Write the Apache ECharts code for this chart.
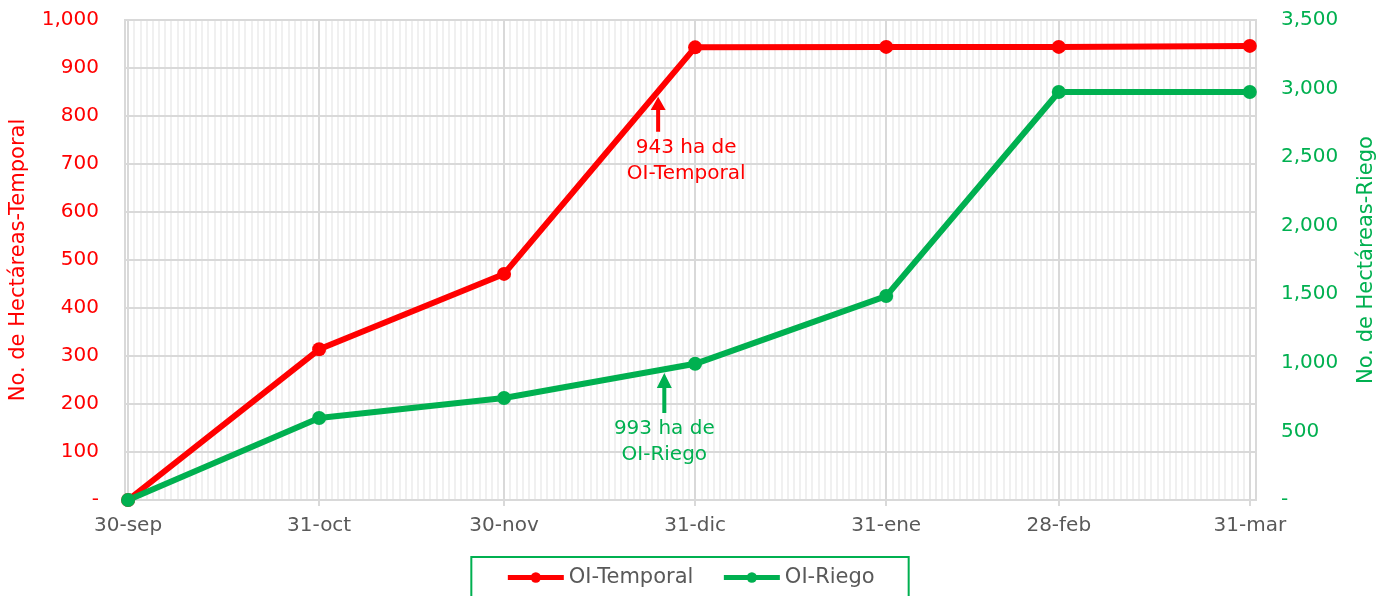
<!DOCTYPE html>
<html>
<head>
  <meta charset="utf-8">
  <title>OI Temporal / Riego</title>
  <script src="https://cdn.jsdelivr.net/npm/echarts@6/dist/echarts.min.js"></script>
</head>
<body style="margin:0">
  <div id="chart" style="width: 1380px; height: 596px;"></div>

  <script>
    // fechas de corte (día 0 = 30-sep)
    const dateLabels = ['30-sep', '31-oct', '30-nov', '31-dic', '31-ene', '28-feb', '31-mar'];
    const dayIndex = [0, 31, 61, 92, 123, 151, 182];
    const temporal = [0, 314, 471, 943, 944, 944, 946];
    const riego = [0, 598, 744, 993, 1487, 2975, 2975];

    const RED = '#FF0000';
    const GREEN = '#00B050';
    const GRAY = '#595959';
    const FONT = 'DejaVu Sans';

    const gridLeft = 125, gridRight = 124, gridTop = 20, gridBottom = 96;
    const xMin = -0.5, xMax = 183;
    const plotW = 1380 - gridLeft - gridRight;
    const pxPerDay = plotW / (xMax - xMin);

    const fmt = v => v === 0 ? '-' : v.toLocaleString('en-US');
    const arrow = 'path://M7.5,0 L15,15 L9.5,15 L9.5,40 L5.5,40 L5.5,15 L0,15 Z';

    const chart = echarts.init(document.getElementById('chart'));

    chart.setOption({
      animation: false,
      textStyle: { fontFamily: FONT },
      grid: [
        { left: gridLeft, right: gridRight, top: gridTop, bottom: gridBottom,
          outerBoundsMode: 'none', containLabel: false,
          show: true, borderColor: '#D9D9D9', borderWidth: 2, z: 3 },
        // grid auxiliar para las líneas diarias
        { left: gridLeft - 0.5 * pxPerDay, right: gridRight, top: gridTop, bottom: gridBottom,
          outerBoundsMode: 'none', containLabel: false }
      ],
      legend: {
        bottom: -20,
        left: 'center',
        padding: [10, 34, 28, 34],
        borderColor: GREEN,
        borderWidth: 2,
        itemWidth: 56,
        itemHeight: 13,
        itemGap: 28,
        lineStyle: { width: 5 },
        textStyle: { color: GRAY, fontSize: 21, fontFamily: FONT },
        data: ['OI-Temporal', 'OI-Riego']
      },
      xAxis: [
        {
          type: 'value',
          gridIndex: 0,
          min: xMin,
          max: xMax,
          z: 2,
          axisLine: { show: true, lineStyle: { color: '#D9D9D9', width: 2 } },
          axisTick: { show: true, length: 6, customValues: dayIndex, lineStyle: { color: '#D9D9D9', width: 2 } },
          axisLabel: {
            customValues: dayIndex,
            color: GRAY, fontSize: 20, margin: 16,
            formatter: v => dateLabels[dayIndex.indexOf(v)] || ''
          },
          splitLine: { show: true, lineStyle: { color: '#D9D9D9', width: 2 } }
        },
        {
          type: 'value',
          gridIndex: 1,
          min: -1,
          max: xMax,
          interval: 1,
          z: 0,
          axisLine: { show: false },
          axisTick: { show: false },
          axisLabel: { show: false },
          splitLine: { show: true, showMinLine: false, showMaxLine: false, lineStyle: { color: '#F0F0F0', width: 2 } }
        }
      ],
      yAxis: [
        {
          type: 'value',
          gridIndex: 0,
          min: 0, max: 1000, interval: 100,
          name: 'No. de Hectáreas-Temporal',
          nameLocation: 'middle',
          nameGap: 96,
          nameTextStyle: { color: RED, fontSize: 21 },
          axisLine: { show: false },
          axisTick: { show: false },
          axisLabel: { color: RED, fontSize: 20, margin: 26, formatter: fmt },
          splitLine: { lineStyle: { color: '#D9D9D9', width: 2 } },
          z: 2
        },
        {
          type: 'value',
          gridIndex: 0,
          position: 'right',
          min: 0, max: 3500, interval: 500,
          name: 'No. de Hectáreas-Riego',
          nameLocation: 'middle',
          nameGap: 100,
          nameTextStyle: { color: GREEN, fontSize: 21 },
          axisLine: { show: false },
          axisTick: { show: false },
          axisLabel: { color: GREEN, fontSize: 20, margin: 25, formatter: fmt },
          splitLine: { show: false }
        },
        {
          type: 'value',
          gridIndex: 1,
          show: false,
          splitLine: { show: false }
        }
      ],
      series: [
        {
          name: 'OI-Temporal',
          type: 'line',
          xAxisIndex: 0,
          yAxisIndex: 0,
          clip: false,
          symbol: 'circle',
          symbolSize: 14,
          itemStyle: { color: RED },
          lineStyle: { color: RED, width: 6 },
          data: dayIndex.map((d, i) => [d, temporal[i]]),
          markPoint: {
            silent: true,
            symbol: arrow,
            symbolSize: [15, 35],
            symbolOffset: [0, '50%'],
            itemStyle: { color: RED },
            label: {
              show: true,
              position: 'bottom',
              distance: 3,
              offset: [28, 0],
              color: RED,
              fontSize: 20,
              lineHeight: 26,
              align: 'center',
              formatter: '943 ha de\nOI-Temporal'
            },
            data: [{ coord: [86, 840] }]
          },
          z: 5
        },
        {
          name: 'OI-Riego',
          type: 'line',
          xAxisIndex: 0,
          yAxisIndex: 1,
          clip: false,
          symbol: 'circle',
          symbolSize: 14,
          itemStyle: { color: GREEN },
          lineStyle: { color: GREEN, width: 6 },
          data: dayIndex.map((d, i) => [d, riego[i]]),
          markPoint: {
            silent: true,
            symbol: arrow,
            symbolSize: [15, 40],
            symbolOffset: [0, '50%'],
            itemStyle: { color: GREEN },
            label: {
              show: true,
              position: 'bottom',
              distance: 3,
              color: GREEN,
              fontSize: 20,
              lineHeight: 26,
              align: 'center',
              formatter: '993 ha de\nOI-Riego'
            },
            data: [{ coord: [87, 926] }]
          },
          z: 5
        }
      ]
    });
  </script>
</body>
</html>
